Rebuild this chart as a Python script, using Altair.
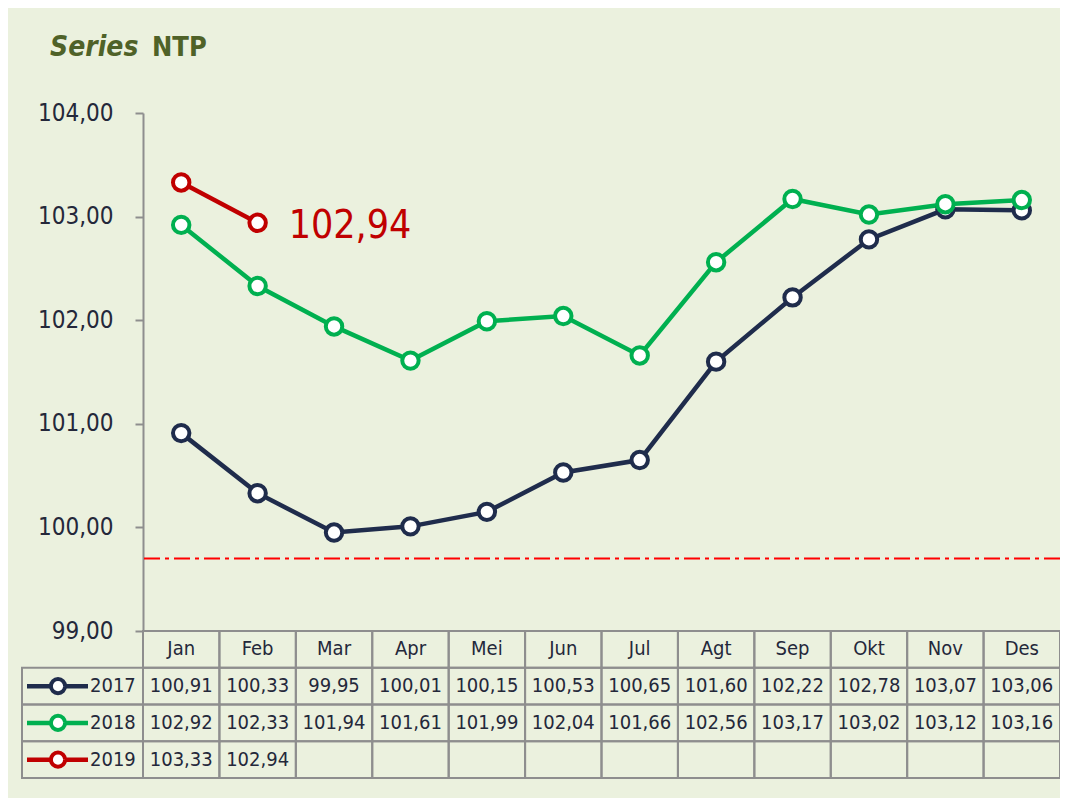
import altair as alt
import pandas as pd

# ---------------- data ----------------
months = ["Jan", "Feb", "Mar", "Apr", "Mei", "Jun", "Jul", "Agt", "Sep", "Okt", "Nov", "Des"]
years = ["2017", "2018", "2019"]
v2017 = [100.91, 100.33, 99.95, 100.01, 100.15, 100.53, 100.65, 101.60, 102.22, 102.78, 103.07, 103.06]
v2018 = [102.92, 102.33, 101.94, 101.61, 101.99, 102.04, 101.66, 102.56, 103.17, 103.02, 103.12, 103.16]
v2019 = [103.33, 102.94]
ref_line = [99.70]
y_ticks = [99, 100, 101, 102, 103, 104]
title_parts = ["Series", "NTP"]

# ---------------- style ----------------
colors = ["#1F2C4C", "#00B050", "#C00000"]
FONT = "Liberation Sans Narrow, Arial Narrow, DejaVu Sans Condensed, Liberation Sans, sans-serif"
BG = "#EBF1DE"
GRID = "#8E8E8E"
TXT = "#24283A"
W, H = 917, 518

series = {"2017": v2017, "2018": v2018, "2019": v2019}
line_df = pd.DataFrame(
    [{"year": y, "month": m, "value": v} for y, vals in series.items() for m, v in zip(months, vals)]
)
cell_df = pd.DataFrame(
    [
        {"row": y, "month": m, "text": (f"{vals[i]:.2f}".replace(".", ",") if i < len(vals) else "")}
        for y, vals in series.items()
        for i, m in enumerate(months)
    ]
)
hdr_df = pd.DataFrame({"row": "hdr", "month": months, "text": months})
table_df = pd.concat([hdr_df, cell_df], ignore_index=True)
legend_df = pd.DataFrame({"row": years, "year": years})

xs = alt.Scale(domain=months, type="band", paddingInner=0, paddingOuter=0)
x_pt = alt.X("month:N", scale=xs, axis=None, bandPosition=0.5)
x_band = alt.X("month:N", scale=xs, axis=None)
color = alt.Color("year:N", scale=alt.Scale(domain=years, range=colors), legend=None)

y_val = alt.Y(
    "value:Q",
    scale=alt.Scale(domain=[99, 104], nice=False, zero=False),
    title=None,
    axis=alt.Axis(
        values=y_ticks,
        labelExpr="replace(format(datum.value, '.2f'), '.', ',')",
        grid=False,
        domainColor=GRID,
        domainWidth=2,
        tickColor=GRID,
        tickWidth=2,
        tickSize=8,
        labelFont=FONT,
        labelFontSize=24,
        labelColor=TXT,
        labelPadding=22,
    ),
)

lines = alt.Chart(line_df).mark_line().encode(
    x=x_pt,
    y=y_val,
    color=color,
    strokeWidth=alt.StrokeWidth("year:N", scale=alt.Scale(domain=years, range=[4.5, 4.5, 3.2]), legend=None),
)
points = alt.Chart(line_df).mark_point(
    shape="circle", filled=False, fill="white", fillOpacity=1, opacity=1, strokeWidth=4
).encode(
    x=x_pt,
    y=y_val,
    color=color,
    size=alt.Size("year:N", scale=alt.Scale(domain=years, range=[270, 270, 330]), legend=None),
)
last_label = (
    alt.Chart(line_df)
    .transform_filter("datum.year == '2019' && datum.month == 'Feb'")
    .transform_calculate(label="replace(format(datum.value, '.2f'), '.', ',')")
    .mark_text(align="left", baseline="middle", dx=31, dy=3, font=FONT, fontSize=39, color="#C00000")
    .encode(x=x_pt, y=y_val, text="label:N")
)
rule = alt.Chart(pd.DataFrame({"value": ref_line})).mark_rule(
    color="#FF0000", strokeWidth=2, strokeDash=[16, 5, 4, 5]
).encode(y=y_val)

title_a = alt.Chart(pd.DataFrame({"t": [title_parts[0]]})).mark_text(
    align="left", baseline="alphabetic", font=FONT, fontSize=28, fontStyle="italic",
    fontWeight="bold", color="#4F6228"
).encode(x=alt.value(-93), y=alt.value(-57), text="t:N")
title_b = alt.Chart(pd.DataFrame({"t": [title_parts[1]]})).mark_text(
    align="left", baseline="alphabetic", font=FONT, fontSize=27,
    fontWeight="bold", color="#4F6228"
).encode(x=alt.value(9), y=alt.value(-57), text="t:N")

line_group = alt.layer(rule, lines, points, last_label, title_a, title_b)

# ---------------- table ----------------
ys = alt.Scale(domain=["hdr"] + years, range=[H, H + 147], paddingInner=0, paddingOuter=0)
y_row = alt.Y("row:N", scale=ys, axis=None)
y_row_c = alt.Y("row:N", scale=ys, axis=None, bandPosition=0.5)

cells = alt.Chart(table_df).mark_rect(fillOpacity=0, stroke=GRID, strokeWidth=2).encode(x=x_band, y=y_row)
cell_text = alt.Chart(table_df).mark_text(font=FONT, fontSize=20, color=TXT, baseline="middle").encode(
    x=x_pt, y=y_row_c, text="text:N"
)
leg_cells = alt.Chart(legend_df).mark_rect(fillOpacity=0, stroke=GRID, strokeWidth=2).encode(
    x=alt.value(-121), x2=alt.value(0), y=y_row
)
leg_lines = alt.Chart(legend_df).mark_rule(strokeWidth=4.5).encode(
    x=alt.value(-116), x2=alt.value(-55), y=y_row_c, color=color
)
leg_points = alt.Chart(legend_df).mark_point(
    shape="circle", filled=False, fill="white", fillOpacity=1, opacity=1, strokeWidth=4, size=200
).encode(x=alt.value(-85), y=y_row_c, color=color)
leg_text = alt.Chart(legend_df).mark_text(
    align="left", baseline="middle", font=FONT, fontSize=20, color=TXT
).encode(x=alt.value(-53), y=y_row_c, text="year:N")

table_group = alt.layer(cells, cell_text, leg_cells, leg_lines, leg_points, leg_text)

chart = (
    alt.layer(line_group, table_group)
    .resolve_scale(y="independent")
    .properties(
        width=W,
        height=H,
        background=BG,
        padding={"left": 135, "top": 105, "right": 0, "bottom": 167},
        autosize=alt.AutoSizeParams(type="none"),
    )
    .configure_view(strokeWidth=0)
)

chart.save("out.html", embed_options={"renderer": "svg", "actions": False})
